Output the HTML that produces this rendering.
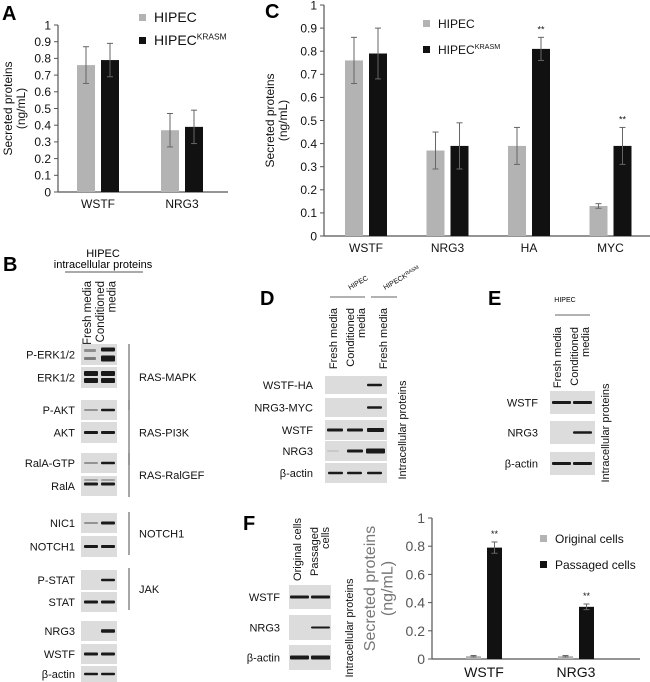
<!DOCTYPE html>
<html><head><meta charset="utf-8"><style>
html,body{margin:0;padding:0;background:#fff;}
svg{display:block;font-family:"Liberation Sans",Arial,sans-serif;}
</style></head><body>
<svg id="fig" width="650" height="682" viewBox="0 0 650 682">
<g id="panelA"></g>
<g id="panelC"></g>
<g id="panelF"></g>
<g id="blots"></g>
</svg>
<script>
// ---- Panel A data ----
const catsA = ["WSTF","NRG3"];
const hipecA = [0.76,0.37];
const hipecErrA = [0.11,0.10];
const krasA = [0.79,0.39];
const krasErrA = [0.10,0.10];
const ticksA = [0,0.1,0.2,0.3,0.4,0.5,0.6,0.7,0.8,0.9,1];
// ---- Panel C data ----
const catsC = ["WSTF","NRG3","HA","MYC"];
const hipecC = [0.76,0.37,0.39,0.13];
const hipecErrC = [0.10,0.08,0.08,0.01];
const krasC = [0.79,0.39,0.81,0.39];
const krasErrC = [0.11,0.10,0.05,0.08];
const sigC = ["","","**","**"];
const ticksC = [0,0.1,0.2,0.3,0.4,0.5,0.6,0.7,0.8,0.9,1];
// ---- Panel F data ----
const catsF = ["WSTF","NRG3"];
const origF = [0.02,0.02];
const origErrF = [0.005,0.005];
const passF = [0.79,0.37];
const passErrF = [0.04,0.02];
const sigF = ["**","**"];
const ticksF = [0,0.2,0.4,0.6,0.8,1];

const NS="http://www.w3.org/2000/svg";
function mk(parent,tag,attrs,text){const e=document.createElementNS(NS,tag);for(const k in attrs)e.setAttribute(k,attrs[k]);if(text!==undefined)e.textContent=text;parent.appendChild(e);return e;}

function chart(g,o){
  const y=v=>o.y0-(v/o.ymax)*(o.y0-o.y1);
  mk(g,"line",{x1:o.ax,y1:o.y1,x2:o.ax,y2:o.y0,stroke:"#555","stroke-width":1.2});
  mk(g,"line",{x1:o.ax,y1:o.y0,x2:o.axEnd,y2:o.y0,stroke:"#555","stroke-width":1.2});
  o.ticks.forEach(t=>{
    mk(g,"line",{x1:o.ax-4,y1:y(t),x2:o.ax,y2:y(t),stroke:"#555"});
    const tl=mk(g,"text",{x:o.ax-7,y:y(t)+o.tfs*0.36,"text-anchor":"end","font-size":o.tfs,fill:o.tcol},o.tfmt?o.tfmt(t):String(t));
    
    
  });
  o.cats.forEach((c,i)=>{
    const cx=o.c0+i*o.step;
    const cl=mk(g,"text",{x:cx,y:o.y0+o.lblDy,"text-anchor":"middle","font-size":o.cfs,fill:"#111"},c);
    
    
    [[o.s1,o.e1,"#b3b3b3",-1],[o.s2,o.e2,"#111",1]].forEach(([s,e,col,side])=>{
      const x0=side<0?cx-o.gap/2-o.bw:cx+o.gap/2;
      const b=mk(g,"rect",{x:x0,y:y(s[i]),width:o.bw,height:o.y0-y(s[i]),fill:col});
      
      
      const mx=x0+o.bw/2;
      mk(g,"line",{x1:mx,y1:y(s[i]+e[i]),x2:mx,y2:y(Math.max(0,s[i]-e[i])),stroke:"#666","stroke-width":1});
      mk(g,"line",{x1:mx-3,y1:y(s[i]+e[i]),x2:mx+3,y2:y(s[i]+e[i]),stroke:"#666"});
      mk(g,"line",{x1:mx-3,y1:y(Math.max(0,s[i]-e[i])),x2:mx+3,y2:y(Math.max(0,s[i]-e[i])),stroke:"#666"});
      if(side>0&&o.sig&&o.sig[i]){
        const st=mk(g,"text",{x:mx,y:y(s[i]+e[i])-5,"text-anchor":"middle","font-size":9,fill:"#111"},o.sig[i]);
        
        
      }
    });
  });
  const yt=mk(g,"text",{transform:`translate(${o.ytx},${(o.y0+o.y1)/2}) rotate(-90)`,"text-anchor":"middle","font-size":o.yfs,fill:o.ycol});
  
  
  mk(yt,"tspan",{x:0,dy:0},"Secreted  proteins");
  mk(yt,"tspan",{x:0,dy:o.yfs*1.1},"(ng/mL)");
}
function legend(g,x,y1,y2,n1,n2,fs,sup){
  mk(g,"rect",{x:x,y:y1-5,width:7,height:7,fill:"#b3b3b3"});
  mk(g,"rect",{x:x,y:y2-5,width:7,height:7,fill:"#111"});
  const a=mk(g,"text",{x:x+15,y:y1+3,"font-size":fs,fill:"#111"},n1);
  
  
  const b=mk(g,"text",{x:x+15,y:y2+3,"font-size":fs,fill:"#111"},n2);
  
  
  if(sup) mk(b,"tspan",{"font-size":fs*0.6,dy:-fs*0.4},sup);
}
const fmt1=t=>t===0?"0":t===1?"1":t.toFixed(1);
// Panel A
const gA=document.getElementById("panelA");
mk(gA,"text",{x:2,y:20,"font-size":20,"font-weight":"bold"},"A");
chart(gA,{ax:58,axEnd:228,y0:192,y1:25,ymax:1,ticks:ticksA,tfs:12,tcol:"#111",tfmt:fmt1,cats:catsA,c0:98,step:84,gap:6,bw:18,s1:hipecA,e1:hipecErrA,s2:krasA,e2:krasErrA,lblDy:16,cfs:12,ytx:12,yfs:12,ycol:"#111"});
legend(gA,139,19,42,"HIPEC","HIPEC",14,"KRASM");
// Panel C
const gC=document.getElementById("panelC");
mk(gC,"text",{x:265,y:18,"font-size":20,"font-weight":"bold"},"C");
chart(gC,{ax:324,axEnd:650,y0:236,y1:5,ymax:1,ticks:ticksC,tfs:12,tcol:"#111",tfmt:fmt1,cats:catsC,c0:366,step:81.5,gap:6,bw:18,s1:hipecC,e1:hipecErrC,s2:krasC,e2:krasErrC,sig:sigC,lblDy:16,cfs:12,ytx:274,yfs:12,ycol:"#111"});
legend(gC,423,25,51,"HIPEC","HIPEC",12,"KRASM");
// Panel F
const gF=document.getElementById("panelF");
chart(gF,{ax:432,axEnd:640,y0:659,y1:518,ymax:1,ticks:ticksF,tfs:14,tcol:"#555",tfmt:t=>t===0?"0":t===1?"1":String(t),cats:catsF,c0:484,step:92,gap:6,bw:15,s1:origF,e1:origErrF,s2:passF,e2:passErrF,sig:sigF,lblDy:18,cfs:14,ytx:375,yfs:16,ycol:"#777"});
legend(gF,540,540,566,"Original cells","Passaged cells",12);

// ---- Blots ----
const gB=document.getElementById("blots");
// lane label: rotated, top-aligned at yTop, x is first-line baseline
function lane(x,yTop,lines,fs){
  const t=mk(gB,"text",{transform:`translate(${x},${yTop}) rotate(-90)`,"font-size":fs,fill:"#111","text-anchor":"end"});
  
  
  lines.forEach((l,i)=>mk(t,"tspan",{x:0,y:i*fs},l));
}
function side(x,y,txt,fs){
  const t=mk(gB,"text",{transform:`translate(${x},${y}) rotate(-90)`,"font-size":fs,fill:"#111","text-anchor":"middle"},txt);
  
  
}
function blot(x,y,w,h,label,bands,lx){
  const r=mk(gB,"rect",{x:x,y:y,width:w,height:h,fill:"#dcdcdc"});
  
  
  bands.forEach(b=>{ if(b[1]>0) mk(gB,"rect",{x:b[0],y:y+h/2-b[1]/2+(b[2]||0),width:b[3]||14,height:b[1],fill:"#1a1a1a",opacity:b[4]||1,rx:1}); });
  mk(gB,"text",{x:lx,y:y+h/2+4,"text-anchor":"end","font-size":11,fill:"#111"},label);
}
// Panel B
mk(gB,"text",{x:3,y:271,"font-size":20,"font-weight":"bold"},"B");
mk(gB,"text",{x:103,y:257,"text-anchor":"middle","font-size":11},"HIPEC");
mk(gB,"text",{x:103,y:268,"text-anchor":"middle","font-size":11},"intracellular  proteins");
mk(gB,"line",{x1:65,y1:272,x2:143,y2:272,stroke:"#777","stroke-width":1.2});
lane(91,281,["Fresh media"],11.5);
lane(104,281,["Conditioned","media"],11.5);
const bx=81,bw=36,l1=84,l2=101;
blot(bx,344,bw,21,"P-ERK1/2",[[l1,3,-4,12,0.4],[l1,3,4,12,0.5],[l2,4,-5],[l2,6,4]],75);
blot(bx,367,bw,21,"ERK1/2",[[l1,5,-4],[l1,5,3],[l2,5,-4],[l2,5,3]],75);
blot(bx,400,bw,20,"P-AKT",[[l1,1.5,0,14,0.5],[l2,2.5]],75);
blot(bx,422,bw,21,"AKT",[[l1,3],[l2,3]],75);
blot(bx,453,bw,20,"RalA-GTP",[[l1,1.5,0,14,0.5],[l2,2.5]],75);
blot(bx,476,bw,20,"RalA",[[l1,3,-2],[l2,3,-2],[l1,1.5,-6,14,0.4],[l2,1.5,-6,14,0.4]],75);
blot(bx,513,bw,20,"NIC1",[[l1,1.5,0,14,0.5],[l2,3]],75);
blot(bx,536,bw,21,"NOTCH1",[[l1,3],[l2,3]],75);
blot(bx,570,bw,20,"P-STAT",[[l2,2.5]],75);
blot(bx,592,bw,20,"STAT",[[l1,3],[l2,3]],75);
blot(bx,621,bw,20,"NRG3",[[l2,3.5]],75);
blot(bx,644,bw,20,"WSTF",[[l1,3],[l2,3]],75);
blot(bx,666,bw,16,"β-actin",[[l1,2.5],[l2,2.5]],75);
[[344,410,"RAS-MAPK"],[400,465,"RAS-PI3K"],[453,497,"RAS-RalGEF"],[512,555,"NOTCH1"],[568,610,"JAK"]].forEach(([a,b,n])=>{
  mk(gB,"line",{x1:129,y1:a,x2:129,y2:b,stroke:"#777","stroke-width":1.3});
  const t=mk(gB,"text",{x:139,y:(a+b)/2+4,"font-size":11,fill:"#111"},n);
  
  
});
// Panel D
mk(gB,"text",{x:260,y:305,"font-size":20,"font-weight":"bold"},"D");
mk(gB,"text",{transform:"translate(350,290) rotate(-30)","font-size":7},"HIPEC");
const kt=mk(gB,"text",{transform:"translate(385,290) rotate(-30)","font-size":7},"HIPECK");
mk(kt,"tspan",{"font-size":5,dy:-2},"RASM");
mk(gB,"line",{x1:330,y1:297,x2:365,y2:297,stroke:"#666"});
mk(gB,"line",{x1:371,y1:297,x2:397,y2:297,stroke:"#666"});
lane(337,308,["Fresh media"],11);
lane(354,308,["Conditioned","media"],11);
lane(387,308,["Fresh media"],11);
const dx=325,dw=62;
blot(dx,376,dw,18,"WSTF-HA",[[367,2.5,0,15]],313);
blot(dx,398,dw,19,"NRG3-MYC",[[367,2.5,0,15]],313);
blot(dx,420,dw,20,"WSTF",[[327,3,0,16],[347,3,0,16],[367,4,0,17]],313);
blot(dx,441,dw,20,"NRG3",[[347,3,0,16],[366,5,0,19],[327,1,0,12,0.2]],313);
blot(dx,463,dw,20,"β-actin",[[328,2.5,0,15],[347,2.5,0,15],[367,2.5,0,15]],313);
side(406,430,"Intracellular proteins",11);
// Panel E
mk(gB,"text",{x:488,y:305,"font-size":20,"font-weight":"bold"},"E");
mk(gB,"text",{x:565,y:302,"text-anchor":"middle","font-size":7},"HIPEC");
mk(gB,"line",{x1:555,y1:315,x2:590,y2:315,stroke:"#666"});
lane(561,327,["Fresh media"],11);
lane(578,327,["Conditioned","media"],11);
blot(550,391,45,23,"WSTF",[[552,3,0,19],[573,3,0,19]],538);
blot(550,421,45,23,"NRG3",[[573,2.5,0,19]],538);
blot(550,452,45,23,"β-actin",[[552,3,0,19],[573,3,0,19]],538);
side(609,433,"Intracellular proteins",11);
// Panel F blots
mk(gB,"text",{x:243,y:530,"font-size":20,"font-weight":"bold"},"F");
lane(301,518,["Original cells"],11);
lane(318,527,["Passaged","cells"],11);
blot(289,585,42,24,"WSTF",[[290,3,0,19],[311,3,0,19]],280);
blot(289,615,42,25,"NRG3",[[311,2,0,19]],280);
blot(289,645,42,25,"β-actin",[[290,4,0,19],[311,4,0,19]],280);
side(353,628,"Intracellular proteins",11);
</script>
</body></html>
